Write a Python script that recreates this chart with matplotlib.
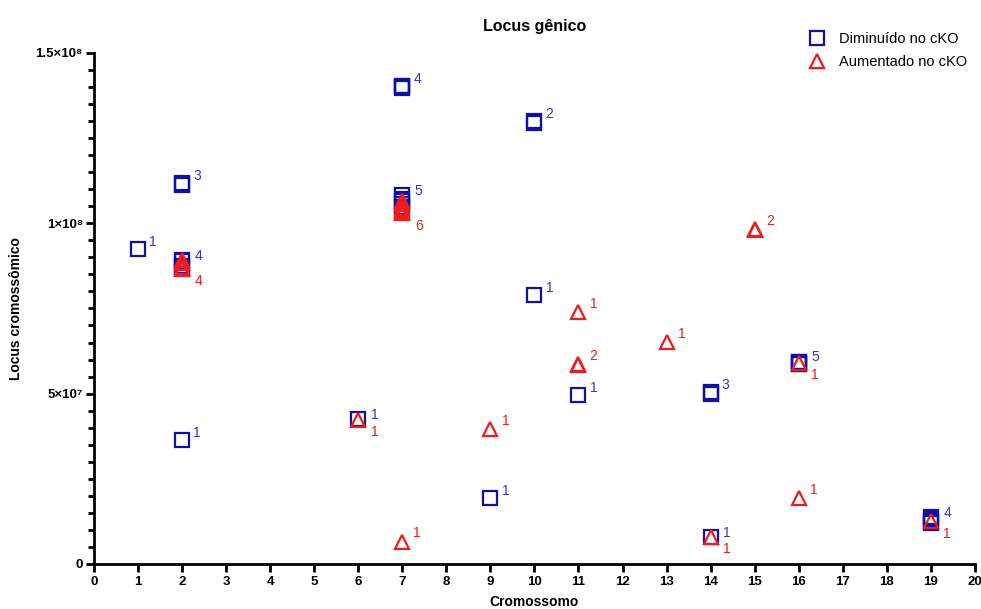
import numpy as np
import matplotlib.pyplot as plt
from matplotlib.ticker import MultipleLocator, FixedLocator

plt.rcParams['font.family'] = ['Liberation Sans', 'DejaVu Sans']

# genes "Diminuído no cKO": chromosome and locus (Mb)
dim_chr = [1, 2, 2, 2, 2, 2, 2, 2, 2, 6, 7, 7, 7, 7, 7, 7, 7, 7, 7,
           9, 10, 10, 10, 11, 14, 14, 14, 14, 16, 16, 16, 16, 16, 19, 19, 19, 19]
dim_locus = [92.5, 111.3, 111.6, 111.9, 86.8, 87.4, 88.8, 89.3, 36.4, 42.6,
             139.8, 140.0, 140.2, 140.4, 104.8, 105.6, 106.4, 107.2, 108.2,
             19.4, 129.4, 130.0, 79.0, 49.5, 50.0, 50.2, 50.4, 8.0,
             58.6, 58.8, 59.0, 59.2, 59.4, 12.0, 12.6, 13.2, 13.8]

# genes "Aumentado no cKO"
aum_chr = [2, 2, 2, 2, 6, 7, 7, 7, 7, 7, 7, 7, 9, 11, 11, 11, 13, 14, 15, 15, 16, 16, 19]
aum_locus = [86.6, 87.2, 88.4, 89.2, 42.4, 103.0, 103.4, 103.8, 104.5, 105.6, 106.5,
             6.5, 39.6, 74.0, 58.4, 58.6, 65.2, 8.0, 98.0, 98.2, 59.0, 19.4, 12.6]

dim_color = '#1111a0'
dim_text = '#3535c8'
aum_color = '#ee1c1c'


def clusters(chrs, loci, gap=4.0):
    out = []
    for c, y in sorted(zip(chrs, loci)):
        if out and out[-1][0] == c and y - out[-1][1][-1] < gap:
            out[-1][1].append(y)
        else:
            out.append((c, [y]))
    return [(c, np.mean(ys), max(ys), min(ys), len(ys)) for c, ys in out]


dim_cl = clusters(dim_chr, dim_locus)
aum_cl = clusters(aum_chr, aum_locus)


def shared(c, y, other):
    return any(o[0] == c and abs(o[1] - y) < 4 for o in other)


fig = plt.figure(figsize=(9.81, 6.09), dpi=100)
ax = fig.add_axes([0.0958, 0.074, 0.898, 0.839])

ax.plot(dim_chr, np.array(dim_locus) * 1e6, 's', ms=10.5, mfc='none', mec=dim_color,
        mew=1.6, ls='none', label='Diminuído no cKO', zorder=3)
ax.plot(aum_chr, np.array(aum_locus) * 1e6, '^', ms=10, mfc='none', mec=aum_color,
        mew=1.6, ls='none', label='Aumentado no cKO', zorder=4)

for c, y, ymax, ymin, n in dim_cl:
    if shared(c, y, aum_cl):
        ax.annotate(str(n), (c, ymax * 1e6), xytext=(9, 3), textcoords='offset points',
                    color=dim_text, fontsize=10, va='center')
    else:
        ax.annotate(str(n), (c, ymax * 1e6), xytext=(8, 5), textcoords='offset points',
                    color=dim_text, fontsize=10, va='center')
for c, y, ymax, ymin, n in aum_cl:
    if shared(c, y, dim_cl):
        ax.annotate(str(n), (c, ymin * 1e6), xytext=(9, -9), textcoords='offset points',
                    color=aum_color, fontsize=10, va='center')
    else:
        ax.annotate(str(n), (c, ymax * 1e6), xytext=(8, 6), textcoords='offset points',
                    color=aum_color, fontsize=10, va='center')

ax.set_xlim(0, 20)
ax.set_ylim(0, 1.5e8)
ax.xaxis.set_major_locator(MultipleLocator(1))
ax.yaxis.set_major_locator(FixedLocator([0, 5e7, 1e8, 1.5e8]))
ax.yaxis.set_minor_locator(MultipleLocator(5e6))
ax.set_yticklabels(['0', '5×10⁷', '1×10⁸', '1.5×10⁸'])
for lab in ax.get_xticklabels() + ax.get_yticklabels():
    lab.set_fontweight('bold')
ax.tick_params(axis='x', labelsize=9.5, width=2, length=6, pad=3)
ax.tick_params(axis='y', which='major', labelsize=9.5, width=2, length=6, pad=2)
ax.tick_params(axis='y', which='minor', width=2, length=4)

for s in ['top', 'right']:
    ax.spines[s].set_visible(False)
for s in ['left', 'bottom']:
    ax.spines[s].set_linewidth(2)

ax.set_title('Locus gênico', fontsize=11.5, fontweight='bold', pad=16)
ax.set_xlabel('Cromossomo', fontsize=10, fontweight='bold', labelpad=5)
ax.set_ylabel('Locus cromossômico', fontsize=10, fontweight='bold', labelpad=9)

ax.legend(loc='upper right', bbox_to_anchor=(1.006, 1.067), frameon=False, fontsize=10.5,
          handletextpad=0.5, labelspacing=0.6)

fig.savefig('out.png', dpi=100)
